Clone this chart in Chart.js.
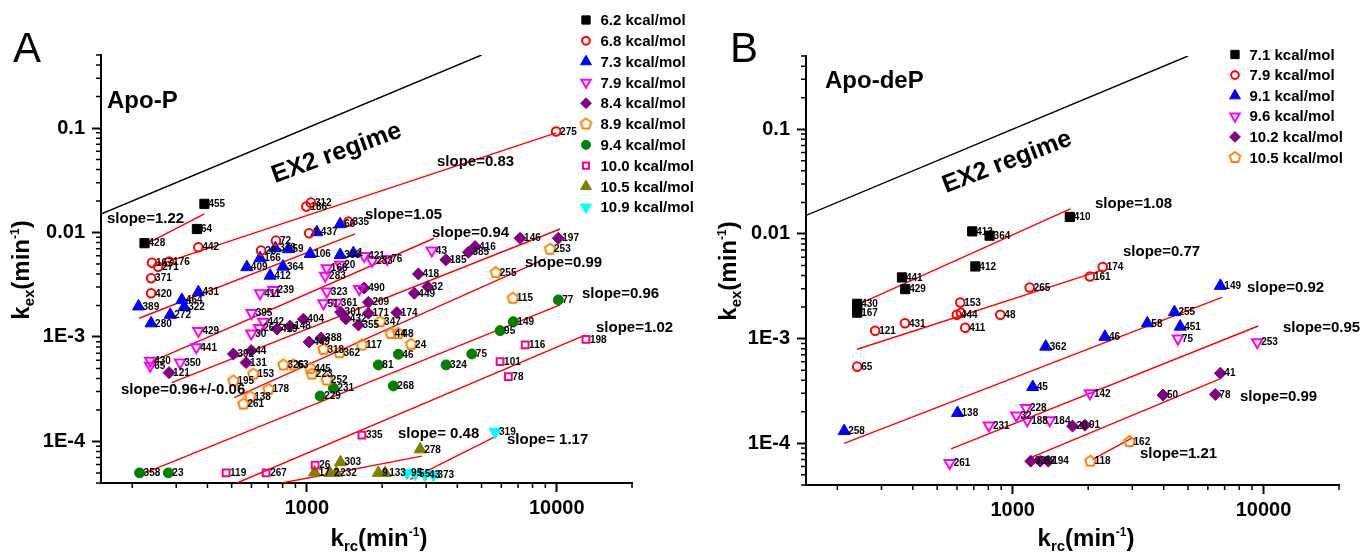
<!DOCTYPE html>
<html>
<head>
<meta charset="utf-8">
<script src="https://cdn.jsdelivr.net/npm/chart.js@4.4.0/dist/chart.umd.min.js"></script>
<style>
html, body { margin: 0; padding: 0; background: #fff; }
#wrap { position: relative; width: 1361px; height: 556px; }
#wrap canvas { position: absolute; left: 0; top: 0; }
</style>
</head>
<body>
<div id="wrap">
  <canvas id="chartA" width="1361" height="556"></canvas>
  <canvas id="chartB" width="1361" height="556"></canvas>
</div>
<script>
const FONT = '"Liberation Sans", Arial, Helvetica, sans-serif';

// axis ticks
const xTicks = [1000, 10000];
const yTicks = [0.1, 0.01, 0.001, 0.0001];
const yTickText = ['0.1', '0.01', '1E-3', '1E-4'];

// Apo-P points: [k_rc, k_ex, residue]
const p62 = [[389,0.0188,'455'],[363,0.0108,'64'],[224,0.0079,'428']];
const p68 = [[368,0.00723,'442'],[240,0.00512,'167'],[254,0.00471,'271'],[281,0.00526,'176'],[238,0.00365,'371'],[238,0.00262,'420'],[752,0.00835,'72'],[656,0.00671,'28'],[1038,0.0193,'312'],[995,0.0177,'186'],[1021,0.00984,'7'],[1466,0.0127,'335'],[9940,0.0927,'275']];
const p73 = [[212,0.00196,'389'],[238,0.00135,'280'],[284,0.00163,'272'],[316,0.00226,'464'],[323,0.00194,'322'],[368,0.00268,'431'],[575,0.00466,'409'],[650,0.00568,'166'],[713,0.00386,'412'],[802,0.00471,'364'],[747,0.00708,'378'],[844,0.00692,'59'],[1031,0.00624,'106'],[1096,0.01007,'437'],[1359,0.0120,'60'],[1359,0.0061,'393'],[1535,0.00634,'1']];
const p79 = [[236,0.000593,'430'],[236,0.000531,'65'],[311,0.000568,'350'],[361,0.000797,'441'],[368,0.00114,'429'],[599,0.00108,'30'],[601,0.0017,'395'],[650,0.00262,'411'],[735,0.00282,'239'],[1183,0.00386,'283'],[1202,0.00455,'168'],[1359,0.0049,'20'],[1202,0.00272,'323'],[1165,0.0021,'51'],[1318,0.00213,'361'],[1695,0.00597,'421'],[1825,0.00535,'233'],[2095,0.00558,'76'],[3162,0.00671,'43'],[1619,0.00288,''],[670,0.0014,'442'],[644,0.00122,'26']];
const p84 = [[281,0.000455,'121'],[508,0.000687,'392'],[599,0.00074,'44'],[571,0.000568,'131'],[759,0.00119,'419'],[857,0.00127,'148'],[968,0.00148,'404'],[1021,0.000895,'449'],[1140,0.000977,'388'],[1364,0.00173,'301'],[1432,0.00149,'432'],[1608,0.0013,'355'],[1763,0.00169,'171'],[1763,0.00215,'209'],[2291,0.00171,'174'],[1695,0.00294,'490'],[2794,0.00401,'418'],[3048,0.00303,'32'],[2692,0.00262,'449'],[3597,0.00547,'185'],[4430,0.00647,'385'],[4710,0.00733,'416'],[7130,0.00881,'146'],[10140,0.00881,'197']];
const p89 = [[557,0.000228,'261'],[593,0.000268,'138'],[508,0.000379,'195'],[702,0.000316,'178'],[611,0.000442,'153'],[806,0.00054,'326'],[884,0.00054,'63'],[1031,0.000501,'445'],[1047,0.000442,'223'],[1202,0.000387,'252'],[1165,0.000762,'318'],[1350,0.000708,'362'],[1660,0.000838,'117'],[1963,0.0014,'347'],[2168,0.00108,'44'],[2323,0.00108,'48'],[2612,0.000851,'24'],[5700,0.00413,'255'],[6670,0.00235,'115'],[9400,0.00692,'253']];
const p94 = [[214,5e-5,'358'],[279,5e-5,'23'],[1130,0.000272,'229'],[1277,0.000323,'231'],[1932,0.00054,'81'],[2323,0.000683,'46'],[2218,0.00034,'268'],[3606,0.00054,'324'],[4571,0.000687,'75'],[5930,0.00115,'95'],[6700,0.0014,'149'],[10140,0.00226,'77']];
const p100 = [[475,5e-5,'119'],[687,5e-5,'267'],[1079,5.94e-5,'26'],[1660,0.000115,'335'],[6400,0.000417,'78'],[5930,0.00058,'101'],[7470,0.000838,'116'],[13090,0.00095,'198']];
const p105 = [[1074,5.06e-5,'17'],[1236,5e-5,'2'],[1310,5e-5,'232'],[1363,6.32e-5,'303'],[1932,5e-5,'9'],[2057,5e-5,'133'],[2840,8.4e-5,'278']];
const p109 = [[5662,0.000124,'319'],[2518,5e-5,'95'],[2710,4.9e-5,'55'],[2972,4.8e-5,'43'],[3208,4.8e-5,'373']];

// Apo-P fitted lines (end points)
const fitA = [
  [[224,0.0076],[389,0.0151]],
  [[247,0.00479],[9940,0.090]],
  [[213,0.00151],[1560,0.0097]],
  [[240,0.00058],[3230,0.00881]],
  [[288,0.000365],[10310,0.0108]],
  [[512,0.000263],[8980,0.00558]],
  [[214,4.76e-5],[10310,0.00203]],
  [[525,4.0e-5],[12980,0.00104]],
  [[794,4.0e-5],[2884,7.24e-5]],
  [[2588,4.34e-5],[5754,0.000113]]
];

// Apo-deP points
const q71 = [[240,0.00215,'430'],[240,0.00196,''],[240,0.00177,'167'],[362,0.00384,'441'],[373,0.00297,'429'],[690,0.01057,'413'],[809,0.00962,'364'],[710,0.00489,'412'],[1690,0.01452,'410']];
const q79 = [[240,0.00054,'65'],[283,0.00119,'121'],[372,0.0014,'431'],[618,0.00221,'153'],[599,0.00169,'444'],[622,0.00176,''],[647,0.00127,'411'],[893,0.00169,'48'],[1169,0.00308,'265'],[2032,0.00392,'161'],[2286,0.00482,'174']];
const q91 = [[213,0.000131,'258'],[603,0.000195,'138'],[1202,0.000345,'45'],[1355,0.000838,'362'],[2333,0.00104,'46'],[3443,0.0014,'58'],[4416,0.00179,'255'],[4656,0.0013,'451'],[6730,0.00319,'149']];
const q96 = [[561,6.49e-5,'261'],[804,0.000148,'231'],[1035,0.000184,'32'],[1130,0.000218,'228'],[1143,0.000166,'188'],[1406,0.000166,'184'],[2032,0.0003,'142'],[4560,0.001,'75'],[9440,0.000924,'253']];
const q102 = [[1180,6.76e-5,'93'],[1288,6.76e-5,'82'],[1386,6.76e-5,'194'],[1733,0.000146,'20'],[1941,0.000149,'91'],[3972,0.000289,'50'],[6427,0.000293,'78'],[6730,0.000467,'41']];
const q105 = [[2042,6.76e-5,'118'],[2924,0.000104,'162']];

const fitB = [
  [[240,0.0021],[1698,0.01734]],
  [[240,0.000792],[2291,0.00454]],
  [[213,9.98e-5],[6823,0.00248]],
  [[568,8.87e-5],[9530,0.00132]],
  [[1180,7.31e-5],[6670,0.00041]],
  [[2084,7.03e-5],[2985,0.000112]]
];

// EX2 limit line
const ex2 = [[150,0.015],[5000,0.5]];

// marker styles
const seriesA = [
  {label:'6.2 kcal/mol', pts:p62, shape:'rect', color:'#000000', open:false, r:6.5},
  {label:'6.8 kcal/mol', pts:p68, shape:'circle', color:'#ff0000', open:true, r:4.3},
  {label:'7.3 kcal/mol', pts:p73, shape:'triangle', color:'#0000ff', open:false, r:7},
  {label:'7.9 kcal/mol', pts:p79, shape:'triangle', rot:180, color:'#ff00ff', open:true, r:6},
  {label:'8.4 kcal/mol', pts:p84, shape:'rectRot', color:'#800080', open:false, r:6},
  {label:'8.9 kcal/mol', pts:p89, shape:'pentagon', color:'#ff8000', open:true, r:5.5},
  {label:'9.4 kcal/mol', pts:p94, shape:'circle', color:'#008000', open:false, r:5},
  {label:'10.0 kcal/mol', pts:p100, shape:'rect', color:'#ff0080', open:true, r:4.8},
  {label:'10.5 kcal/mol', pts:p105, shape:'triangle', color:'#808000', open:false, r:7},
  {label:'10.9 kcal/mol', pts:p109, shape:'triangle', rot:180, color:'#00ffff', open:false, r:7}
];
const seriesB = [
  {label:'7.1 kcal/mol', pts:q71, shape:'rect', color:'#000000', open:false, r:6.5},
  {label:'7.9 kcal/mol', pts:q79, shape:'circle', color:'#ff0000', open:true, r:4.3},
  {label:'9.1 kcal/mol', pts:q91, shape:'triangle', color:'#0000ff', open:false, r:7},
  {label:'9.6 kcal/mol', pts:q96, shape:'triangle', rot:180, color:'#ff00ff', open:true, r:6},
  {label:'10.2 kcal/mol', pts:q102, shape:'rectRot', color:'#800080', open:false, r:6},
  {label:'10.5 kcal/mol', pts:q105, shape:'pentagon', color:'#ff8000', open:true, r:5.5}
];

const notesA = [
  {t:'A', x:13, y:62, f:'42px'},
  {t:'Apo-P', x:107, y:108, f:'bold 24px'},
  {t:'EX2 regime', x:275, y:183, f:'bold 25px', rot:-20},
  {t:'slope=1.22', x:107, y:219, mid:true},
  {t:'slope=0.83', x:437, y:162, mid:true},
  {t:'slope=1.05', x:365, y:215, mid:true},
  {t:'slope=0.94', x:432, y:233, mid:true},
  {t:'slope=0.99', x:525, y:263, mid:true},
  {t:'slope=0.96', x:582, y:294, mid:true},
  {t:'slope=1.02', x:596, y:328, mid:true},
  {t:'slope=0.96+/-0.06', x:121, y:390, mid:true},
  {t:'slope= 0.48', x:398, y:434, mid:true},
  {t:'slope= 1.17', x:507, y:440, mid:true}
];
const notesB = [
  {t:'B', x:730, y:62, f:'42px'},
  {t:'Apo-deP', x:825, y:88, f:'bold 24px'},
  {t:'EX2 regime', x:946, y:193, f:'bold 25px', rot:-21},
  {t:'slope=1.08', x:1095, y:204, mid:true},
  {t:'slope=0.77', x:1123, y:252, mid:true},
  {t:'slope=0.92', x:1247, y:288, mid:true},
  {t:'slope=0.95', x:1283, y:328, mid:true},
  {t:'slope=0.99', x:1240, y:397, mid:true},
  {t:'slope=1.21', x:1140, y:454, mid:true}
];

function pentagonImg(color, r, lw) {
  const s = Math.ceil(2 * r + lw + 2);
  const c = document.createElement('canvas');
  c.width = s; c.height = s;
  const g = c.getContext('2d');
  g.strokeStyle = color; g.lineWidth = lw;
  g.beginPath();
  for (let i = 0; i < 5; i++) {
    const a = -Math.PI / 2 + i * 2 * Math.PI / 5;
    const px = s / 2 + r * Math.cos(a), py = s / 2 + r * Math.sin(a);
    if (i) g.lineTo(px, py); else g.moveTo(px, py);
  }
  g.closePath();
  g.stroke();
  return c;
}

function pointSets(series) {
  return series.map(s => {
    s.style = s.shape === 'pentagon' ? pentagonImg(s.color, s.r, 2) : s.shape;
    return {
      label: s.label,
      data: s.pts.map(p => ({x: p[0], y: p[1]})),
      tags: s.pts.map(p => p[2]),
      pointStyle: s.style,
      pointRadius: s.r,
      pointHoverRadius: s.r,
      pointRotation: s.rot || 0,
      backgroundColor: s.open ? 'rgba(0,0,0,0)' : s.color,
      borderColor: s.color,
      borderWidth: s.open ? 2 : 1,
      showLine: false
    };
  });
}

function lineSet(pts, color) {
  return {
    data: pts.map(p => ({x: p[0], y: p[1]})),
    showLine: true,
    pointRadius: 0,
    pointHoverRadius: 0,
    borderColor: color,
    borderWidth: 1.4,
    fill: false
  };
}

// minor tick marks on both axes
const minorTicks = {
  id: 'minorTicks',
  afterDraw(chart) {
    const {ctx, chartArea: ca, scales: {x, y}} = chart;
    ctx.save();
    ctx.strokeStyle = '#000';
    ctx.lineWidth = 1.5;
    ctx.beginPath();
    for (let e = 2; e <= 4; e++) {
      for (let m = 2; m <= 9; m++) {
        const v = m * Math.pow(10, e);
        if (v < x.min || v > x.max) continue;
        const px = x.getPixelForValue(v);
        ctx.moveTo(px, ca.bottom); ctx.lineTo(px, ca.bottom + 5);
      }
    }
    for (let e = -5; e <= -1; e++) {
      for (let m = 2; m <= 9; m++) {
        const v = m * Math.pow(10, e);
        if (v < y.min * 0.999 || v > y.max * 1.001) continue;
        const py = y.getPixelForValue(v);
        ctx.moveTo(ca.left, py); ctx.lineTo(ca.left - 5, py);
      }
    }
    ctx.stroke();
    ctx.restore();
  }
};

// residue numbers next to each point
const pointTags = {
  id: 'pointTags',
  afterDatasetsDraw(chart) {
    const ctx = chart.ctx;
    ctx.save();
    ctx.font = 'bold 10px ' + FONT;
    ctx.fillStyle = '#000';
    ctx.textAlign = 'left';
    ctx.textBaseline = 'middle';
    chart.data.datasets.forEach((ds, i) => {
      if (!ds.tags) return;
      chart.getDatasetMeta(i).data.forEach((el, j) => {
        if (ds.tags[j]) ctx.fillText(ds.tags[j], el.x + 4, el.y + 0.5);
      });
    });
    ctx.restore();
  }
};

function drawMarker(ctx, s, x, y) {
  ctx.save();
  ctx.fillStyle = s.open ? 'rgba(0,0,0,0)' : s.color;
  ctx.strokeStyle = s.color;
  ctx.lineWidth = s.open ? 2 : 1;
  const opts = {pointStyle: s.style, radius: s.r * 0.9, rotation: s.rot || 0, borderWidth: ctx.lineWidth};
  if (Chart.helpers && Chart.helpers.drawPoint) {
    Chart.helpers.drawPoint(ctx, opts, x, y);
  } else if (s.style instanceof HTMLCanvasElement) {
    ctx.drawImage(s.style, x - s.style.width / 2, y - s.style.height / 2);
  } else {
    ctx.beginPath(); ctx.arc(x, y, s.r, 0, Math.PI * 2); ctx.fill(); ctx.stroke();
  }
  ctx.restore();
}

function makeKey(series, mx, y0, dy, tx) {
  return {
    id: 'key',
    afterDraw(chart) {
      const ctx = chart.ctx;
      series.forEach((s, i) => {
        const y = y0 + i * dy;
        drawMarker(ctx, s, mx, y);
        ctx.save();
        ctx.font = 'bold 15px ' + FONT;
        ctx.fillStyle = '#000';
        ctx.textAlign = 'left';
        ctx.textBaseline = 'middle';
        ctx.fillText(s.label, tx, y + 1);
        ctx.restore();
      });
    }
  };
}

function kTitle(ctx, sub, cx, by) {
  const parts = [
    ['k', 'bold 24px ' + FONT, 0],
    [sub, 'bold 15px ' + FONT, 5],
    ['(min', 'bold 24px ' + FONT, 0],
    ['-1', 'bold 12px ' + FONT, -10],
    [')', 'bold 24px ' + FONT, 0]
  ];
  let w = 0;
  parts.forEach(p => { ctx.font = p[1]; p[3] = ctx.measureText(p[0]).width; w += p[3]; });
  let x = cx - w / 2;
  ctx.textAlign = 'left';
  ctx.textBaseline = 'alphabetic';
  parts.forEach(p => { ctx.font = p[1]; ctx.fillText(p[0], x, by + p[2]); x += p[3]; });
}

function makeNotes(notes, xt, yt) {
  return {
    id: 'notes',
    afterDraw(chart) {
      const ctx = chart.ctx;
      ctx.save();
      ctx.fillStyle = '#000';
      notes.forEach(n => {
        ctx.save();
        ctx.font = (n.f || 'bold 15px') + ' ' + FONT;
        ctx.textAlign = 'left';
        ctx.textBaseline = n.mid ? 'middle' : 'alphabetic';
        ctx.translate(n.x, n.y);
        if (n.rot) ctx.rotate(n.rot * Math.PI / 180);
        ctx.fillText(n.t, 0, 0);
        ctx.restore();
      });
      kTitle(ctx, 'rc', xt[0], xt[1]);
      ctx.save();
      ctx.translate(yt[0], yt[1]);
      ctx.rotate(-Math.PI / 2);
      kTitle(ctx, 'ex', 0, 0);
      ctx.restore();
      ctx.restore();
    }
  };
}

function scales(yWidth, xHeight) {
  const tickFont = {family: FONT, size: 20, weight: 'bold'};
  const grid = {display: true, drawOnChartArea: false, drawTicks: true, tickLength: 9, tickWidth: 2, tickColor: '#000', color: '#000'};
  const border = {display: true, width: 2, color: '#000'};
  return {
    x: {
      type: 'logarithmic', min: 150, max: 20000, bounds: 'data',
      afterBuildTicks: s => { s.ticks = xTicks.map(v => ({value: v, major: true})); },
      afterFit: s => { s.height = xHeight; },
      ticks: {callback: v => String(Math.round(v)), font: tickFont, color: '#000', padding: 4, autoSkip: false, maxRotation: 0},
      grid: grid, border: border, title: {display: false}
    },
    y: {
      type: 'logarithmic', min: 4e-5, max: 0.5, bounds: 'data',
      afterBuildTicks: s => { s.ticks = yTicks.map(v => ({value: v, major: true})); },
      afterFit: s => { s.width = yWidth; },
      ticks: {
        callback: v => {
          const i = yTicks.findIndex(t => Math.abs(Math.log10(t) - Math.log10(v)) < 1e-6);
          return i >= 0 ? yTickText[i] : '';
        },
        font: tickFont, color: '#000', padding: 7, autoSkip: false
      },
      grid: grid, border: border, title: {display: false}
    }
  };
}

function makeChart(id, series, fits, pad, yWidth, xHeight, key, notes, xt, yt) {
  const datasets = pointSets(series)
    .concat(fits.map(f => lineSet(f, '#ff0000')))
    .concat([lineSet(ex2, '#000000')]);
  return new Chart(document.getElementById(id), {
    type: 'scatter',
    data: {datasets: datasets},
    options: {
      responsive: false,
      animation: false,
      devicePixelRatio: 1,
      events: [],
      layout: {padding: pad},
      scales: scales(yWidth, xHeight),
      plugins: {legend: {display: false}, tooltip: {enabled: false}, title: {display: false}}
    },
    plugins: [minorTicks, pointTags, makeKey(series, key[0], key[1], key[2], key[3]), makeNotes(notes, xt, yt)]
  });
}

makeChart('chartA', seriesA, fitA, {left: 0, top: 55, right: 729, bottom: 0}, 101, 73,
  [586, 20, 20.8, 600.5], notesA, [379, 546], [29, 270]);
makeChart('chartB', seriesB, fitB, {left: 700, top: 56, right: 22, bottom: 0}, 106, 71,
  [1235, 54.5, 20.6, 1249.5], notesB, [1086, 546], [736, 271]);
</script>
</body>
</html>
